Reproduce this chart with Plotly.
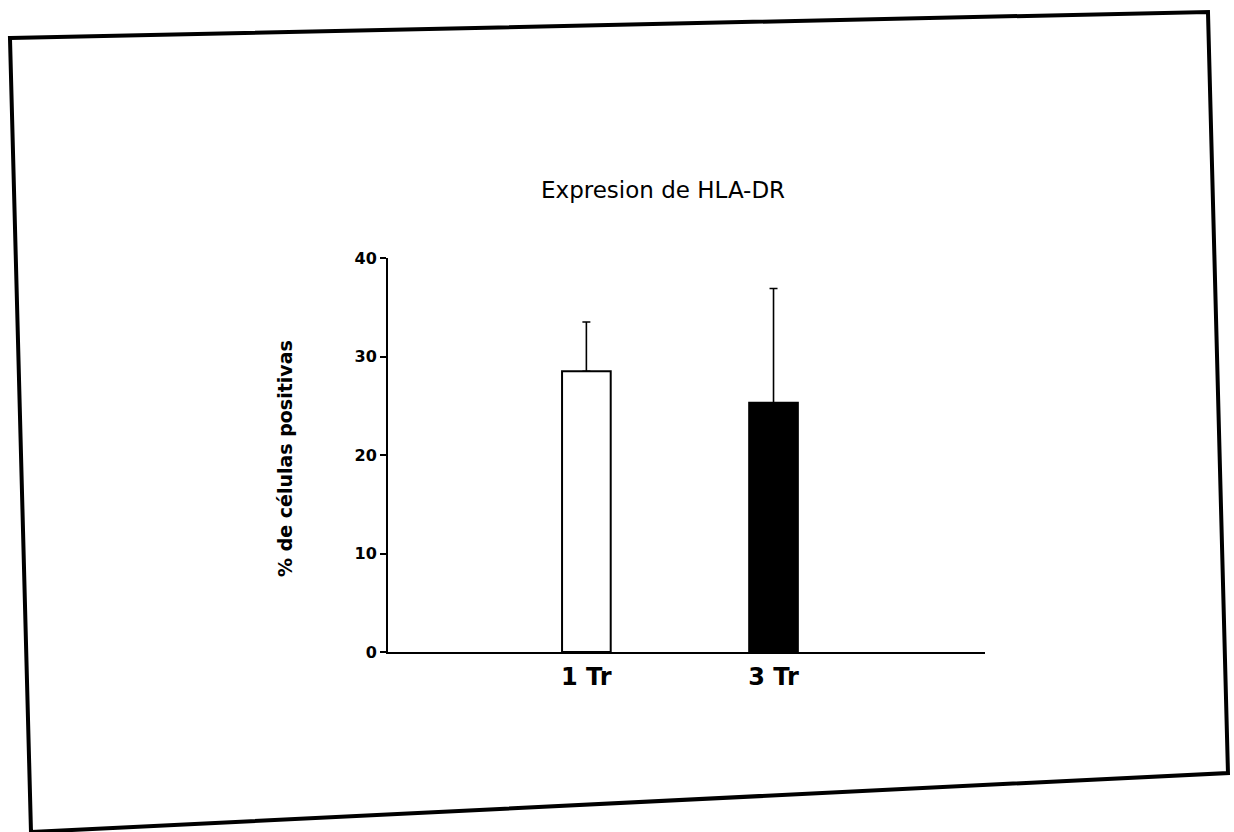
import plotly.graph_objects as go

# Data
categories = ["1 Tr", "3 Tr"]
values = [28.5, 25.3]
errors_up = [5.0, 11.6]
bar_fills = ["white", "black"]

title_text = "Expresion de HLA-DR"
y_title = "% de células positivas"
y_ticks = [0, 10, 20, 30, 40]

FONT = "DejaVu Sans, Verdana, sans-serif"

fig = go.Figure()
fig.add_trace(go.Bar(
    x=categories, y=values,
    width=0.26,
    marker=dict(color=bar_fills, line=dict(color="black", width=2)),
    error_y=dict(type="data", symmetric=False, array=errors_up,
                 arrayminus=[0] * len(values),
                 color="black", thickness=1.6, width=4),
    showlegend=False,
))

L, R, T, B = 388, 1234 - 985, 258, 832 - 652
W = 1234 - L - R
H = 832 - T - B

def px(x):
    return (x - L) / W

def py(y):
    return (832 - B - y) / H

frame = [(10, 38), (1208, 12), (1228, 773), (31, 832)]
path = "M " + " L ".join(f"{px(a):.4f},{py(b):.4f}" for a, b in frame) + " Z"

fig.update_layout(
    width=1234, height=832,
    margin=dict(l=L, r=R, t=T, b=B, autoexpand=False),
    paper_bgcolor="white", plot_bgcolor="white",
    font=dict(family=FONT, color="black"),
    xaxis=dict(
        range=[-1.06, 2.13], showline=True, linecolor="black", linewidth=2,
        showgrid=False, zeroline=False, ticks="",
        tickfont=dict(size=24, family=FONT, weight="bold"),
        ticklabelstandoff=2,
    ),
    yaxis=dict(
        range=[0, 40], tickvals=y_ticks, showline=True, linecolor="black", linewidth=2,
        showgrid=False, zeroline=False, ticks="outside", ticklen=6, tickwidth=2,
        tickcolor="black",
        tickfont=dict(size=16, family=FONT, weight="bold"),
    ),
    shapes=[dict(type="path", path=path, xref="paper", yref="paper",
                 line=dict(color="black", width=4), fillcolor="rgba(0,0,0,0)")],
    annotations=[
        dict(text=title_text, x=px(663), y=py(190), xref="paper", yref="paper",
             xanchor="center", yanchor="middle",
             showarrow=False, font=dict(size=23, family=FONT)),
        dict(text=y_title, x=px(285), y=py(459), xref="paper", yref="paper",
             xanchor="center", yanchor="middle",
             showarrow=False, textangle=-90,
             font=dict(size=19, family=FONT, weight="bold")),
    ],
)

fig.write_html("out.html")
